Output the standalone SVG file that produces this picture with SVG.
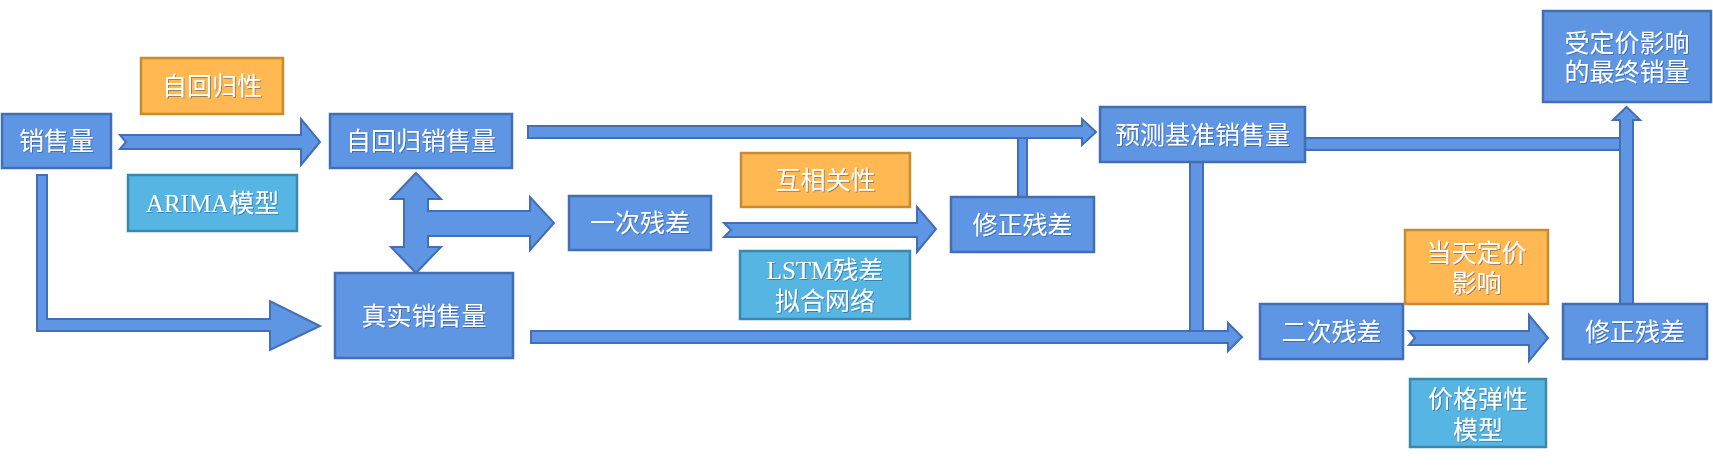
<svg xmlns="http://www.w3.org/2000/svg" width="1713" height="468" viewBox="0 0 1713 468">
<defs>
<filter id="sh" x="-10%" y="-20%" width="120%" height="140%">
<feDropShadow dx="1" dy="1" stdDeviation="0.4" flood-color="#1F3F70" flood-opacity="0.45"/>
</filter>
</defs>
<style>
.n{fill:#5F96E4;stroke:#416EB5;stroke-width:2.5}
.o{fill:#FFB852;stroke:#C78B30;stroke-width:2.5}
.c{fill:#57B5E4;stroke:#3A88AC;stroke-width:2.5}
.a{fill:#5F96E4;stroke:#416EB5;stroke-width:2;stroke-linejoin:miter}
text{fill:#FFFFFF;font-family:"Liberation Serif","Noto Sans CJK SC",serif;font-size:25px;font-weight:normal;text-anchor:middle;filter:url(#sh)}
</style>
<g id="connectors">
<path class="a" d="M120,135 L301,135 L301,119 L320,142 L301,165 L301,149 L120,149 L126,142 Z"/>
<path class="a" d="M528,126 L1082,126 L1082,119 L1096,132 L1082,145 L1082,138 L528,138 Z"/>
<path class="a" d="M416,173 L441,199 L428,199 L428,211 L530,211 L530,197 L554,223 L530,250 L530,236 L428,236 L428,247 L441,247 L416,273 L391,247 L404,247 L404,199 L391,199 Z"/>
<path class="a" d="M724,223 L917,223 L917,207 L936,229 L917,252 L917,237 L724,237 L731,230 Z"/>
<path class="a" d="M1018,197 L1018,138 L1027,138 L1027,197 Z"/>
<path class="a" d="M1305,138 L1620,138 L1620,150 L1305,150 Z"/>
<path class="a" d="M1190,161 L1203,161 L1203,331 L1190,331 Z"/>
<path class="a" d="M531,331 L1228,331 L1228,323 L1242,337 L1228,351 L1228,343 L531,343 Z"/>
<path class="a" d="M37,175 L47,175 L47,319 L270,319 L270,301 L320,326 L270,350 L270,331 L37,331 Z"/>
<path class="a" d="M1409,331 L1529,331 L1529,315 L1548,338 L1529,361 L1529,345 L1409,345 L1415,338 Z"/>
<path class="a" d="M1620,304 L1620,120 L1613,120 L1626.5,107 L1640,120 L1633,120 L1633,304 Z"/>
</g>
<g id="n1"><rect class="n" x="2" y="114" width="109" height="54"/><text x="56.5" y="150">销售量</text></g>
<g id="l1"><rect class="o" x="141" y="58" width="142" height="56"/><text x="212" y="95">自回归性</text></g>
<g id="l2"><rect class="c" x="128" y="175" width="169" height="56"/><text x="212.5" y="212">ARIMA模型</text></g>
<g id="n2"><rect class="n" x="330" y="114" width="182" height="54"/><text x="421" y="150">自回归销售量</text></g>
<g id="n3"><rect class="n" x="335" y="273" width="178" height="85"/><text x="424" y="324.5">真实销售量</text></g>
<g id="n4"><rect class="n" x="569" y="196" width="142" height="54"/><text x="640" y="232">一次残差</text></g>
<g id="l3"><rect class="o" x="741" y="153" width="169" height="54"/><text x="825.5" y="189">互相关性</text></g>
<g id="l4"><rect class="c" x="740" y="251" width="170" height="68"/><text x="825" y="279">LSTM残差</text><text x="825" y="310">拟合网络</text></g>
<g id="n5"><rect class="n" x="951" y="197" width="143" height="55"/><text x="1022.5" y="233.5">修正残差</text></g>
<g id="n6"><rect class="n" x="1100" y="107" width="205" height="55"/><text x="1202.5" y="143.5">预测基准销售量</text></g>
<g id="n7"><rect class="n" x="1260" y="304" width="143" height="55"/><text x="1331.5" y="340.5">二次残差</text></g>
<g id="l5"><rect class="o" x="1405" y="230" width="143" height="74"/><text x="1476.5" y="262">当天定价</text><text x="1476.5" y="292">影响</text></g>
<g id="n8"><rect class="n" x="1563" y="304" width="144" height="55"/><text x="1635" y="340.5">修正残差</text></g>
<g id="l6"><rect class="c" x="1410" y="379" width="136" height="68"/><text x="1478" y="408">价格弹性</text><text x="1478" y="439">模型</text></g>
<g id="n9"><rect class="n" x="1543" y="11" width="168" height="91"/><text x="1627" y="52">受定价影响</text><text x="1627" y="81">的最终销量</text></g>
</svg>
